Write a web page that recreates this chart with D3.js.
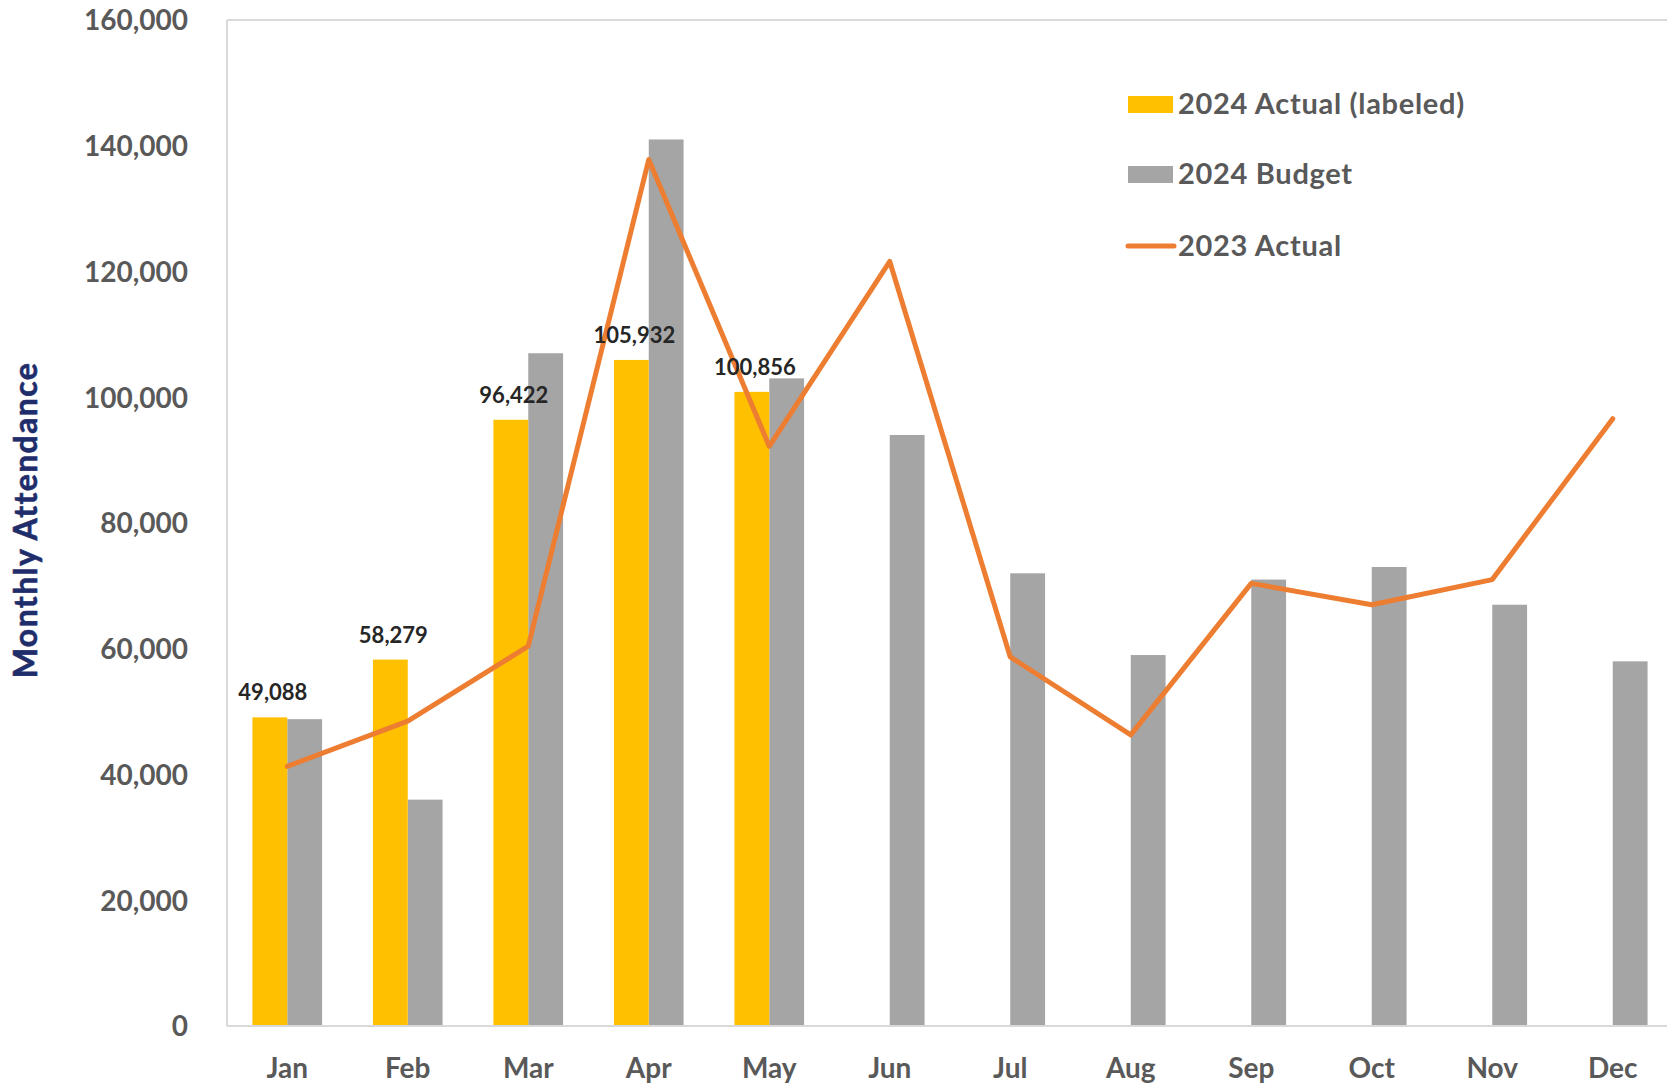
<!DOCTYPE html>
<html>
<head>
<meta charset="utf-8">
<script src="https://cdn.jsdelivr.net/npm/d3@7"></script>
<style>
  html, body { margin: 0; padding: 0; background: #fff; overflow: hidden; }
  svg { display: block; }
  text { font-family: Lato, "Open Sans", sans-serif; font-weight: 700; }
</style>
</head>
<body>
<svg id="chart" width="1667" height="1083"></svg>
<script>
const months = ["Jan","Feb","Mar","Apr","May","Jun","Jul","Aug","Sep","Oct","Nov","Dec"];
const actual2024 = [49088, 58279, 96422, 105932, 100856, null, null, null, null, null, null, null];
const budget2024 = [48800, 36000, 107000, 141000, 103000, 94000, 72000, 59000, 71000, 73000, 67000, 58000];
const actual2023 = [41300, 48500, 60400, 137800, 92200, 121600, 58700, 46300, 70400, 67000, 71000, 96600];
const yTicks = [0, 20000, 40000, 60000, 80000, 100000, 120000, 140000, 160000];
const seriesNames = ["2024 Actual (labeled)", "2024 Budget", "2023 Actual"];

(function () {
const W = 1667, H = 1083;
const mLeft = 227, mRight = 1673, mTop = 20, mBottom = 1026;
const svg = d3.select("#chart");

const x0 = d3.scaleBand().domain(months).range([mLeft, mRight]).padding(0);
const x1 = d3.scaleBand().domain(["a","b"]).range([0, x0.bandwidth()]).paddingInner(0).paddingOuter(0.73);
const y = d3.scaleLinear().domain([0, 160000]).range([mBottom, mTop]);

const fmt = d3.format(",");

// frame
svg.append("line").attr("x1", mLeft).attr("x2", W + 10).attr("y1", mTop).attr("y2", mTop)
  .attr("stroke", "#d9d9d9").attr("stroke-width", 2);
svg.append("line").attr("x1", mLeft).attr("x2", mLeft).attr("y1", mTop).attr("y2", mBottom)
  .attr("stroke", "#d9d9d9").attr("stroke-width", 2);

// y axis
const yAxis = d3.axisLeft(y).tickValues(yTicks).tickFormat(fmt).tickSize(0).tickPadding(0);
const gy = svg.append("g").attr("transform", `translate(188,0)`).call(yAxis);
gy.select(".domain").remove();
gy.selectAll("text").attr("font-size", 28).attr("fill", "#595959")
  .attr("font-family", "Lato, 'Open Sans', sans-serif").attr("font-weight", 700).attr("dy", "0.35em");

// bars
const data = months.map((m, i) => ({ m, a: actual2024[i], b: budget2024[i], l: actual2023[i] }));
const g = svg.append("g");
g.selectAll("rect.b").data(data).join("rect").attr("class", "b")
  .attr("x", d => x0(d.m) + x1("b")).attr("width", x1.bandwidth())
  .attr("y", d => y(d.b)).attr("height", d => y(0) - y(d.b)).attr("fill", "#a5a5a5");
g.selectAll("rect.a").data(data.filter(d => d.a != null)).join("rect").attr("class", "a")
  .attr("x", d => x0(d.m) + x1("a")).attr("width", x1.bandwidth())
  .attr("y", d => y(d.a)).attr("height", d => y(0) - y(d.a)).attr("fill", "#ffc000");

// bottom axis
svg.append("line").attr("x1", mLeft).attr("x2", W + 10).attr("y1", mBottom).attr("y2", mBottom)
  .attr("stroke", "#d9d9d9").attr("stroke-width", 2);
const xAxis = d3.axisBottom(x0).tickSize(0).tickPadding(0);
const gx = svg.append("g").attr("transform", `translate(0,${mBottom})`).call(xAxis);
gx.select(".domain").remove();
gx.selectAll("text").attr("font-size", 28).attr("fill", "#595959")
  .attr("font-family", "Lato, 'Open Sans', sans-serif").attr("font-weight", 700)
  .attr("dy", null).attr("y", 52);

// line
const line = d3.line().x(d => x0(d.m) + x0.bandwidth() / 2).y(d => y(d.l));
svg.append("path").datum(data).attr("d", line).attr("fill", "none")
  .attr("stroke", "#ed7d31").attr("stroke-width", 5).attr("stroke-linejoin", "round").attr("stroke-linecap", "round");

// data labels
svg.selectAll("text.lbl").data(data.filter(d => d.a != null)).join("text").attr("class", "lbl")
  .attr("x", d => x0(d.m) + x1("a") + x1.bandwidth() / 2 + 3)
  .attr("y", d => y(d.a) - 17)
  .attr("text-anchor", "middle").attr("font-size", 22).attr("fill", "#262626")
  .text(d => fmt(d.a));

// legend
const lg = svg.append("g");
const ly = [104, 174, 246];
lg.append("rect").attr("x", 1128).attr("y", ly[0] - 8).attr("width", 45).attr("height", 17).attr("fill", "#ffc000");
lg.append("rect").attr("x", 1128).attr("y", ly[1] - 8).attr("width", 45).attr("height", 17).attr("fill", "#a5a5a5");
lg.append("line").attr("x1", 1128).attr("x2", 1174).attr("y1", ly[2]).attr("y2", ly[2])
  .attr("stroke", "#ed7d31").attr("stroke-width", 5).attr("stroke-linecap", "round");
lg.selectAll("text").data(seriesNames).join("text")
  .attr("x", 1178).attr("y", (d, i) => ly[i]).attr("dy", "0.35em")
  .attr("font-size", 29).attr("letter-spacing", 0.7)
  .attr("fill", "#595959").text(d => d);

// y title
svg.append("text").attr("transform", "translate(26,520) rotate(-90)")
  .attr("text-anchor", "middle").attr("dy", "0.35em").attr("font-size", 32)
  .attr("letter-spacing", 1.4).attr("stroke", "#1f2d6b").attr("stroke-width", 0.6)
  .attr("fill", "#1f2d6b").text("Monthly Attendance");
})();
</script>
</body>
</html>
